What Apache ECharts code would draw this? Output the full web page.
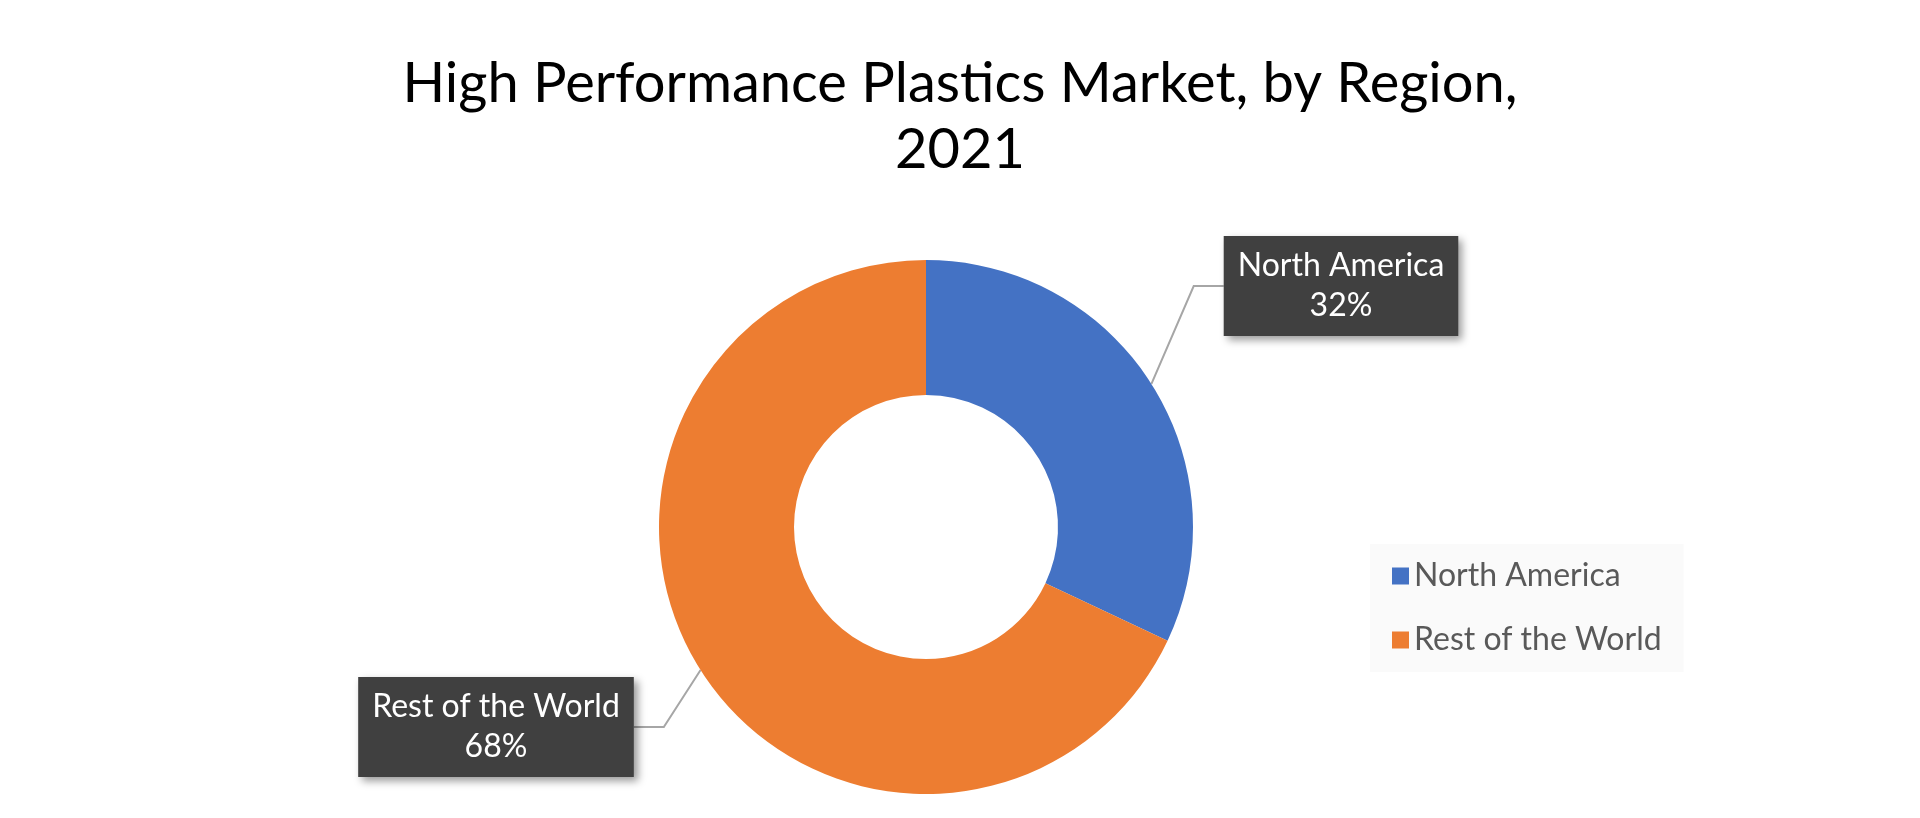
<!DOCTYPE html>
<html lang="en">
<head>
    <meta charset="UTF-8">
    <title>High Performance Plastics Market</title>
    <script src="https://cdn.jsdelivr.net/npm/echarts@6/dist/echarts.min.js"></script>
    <style>html,body{margin:0;background:#fff;}</style>
</head>
<body>
    <div id="main" style="width:1920px;height:818px;"></div>
    <script>
        var regions = ['North America', 'Rest of the World'];
        var shares = [32, 68];
        var colors = ['#4472C4', '#ED7D31'];
        // label box centres
        var labelPos = [[1341, 286], [496, 727]];

        var myChart = echarts.init(document.getElementById('main'));
        myChart.setOption({
            title: {
                text: 'High Performance Plastics Market, by Region,\n2021',
                left: 'center',
                top: 46,
                textStyle: { fontFamily: 'Lato', fontWeight: 'normal', fontSize: 56, color: '#000', lineHeight: 66 }
            },
            legend: {
                orient: 'vertical',
                left: 1370, top: 544,
                padding: [16, 22],
                backgroundColor: '#fafafa',
                itemWidth: 17, itemHeight: 17, itemGap: 32,
                icon: 'rect',
                textStyle: { fontFamily: 'Lato', fontSize: 32, color: '#595959' },
                data: regions
            },
            series: [{
                type: 'pie',
                center: [926, 527],
                radius: [132, 267],
                startAngle: 90,
                clockwise: true,
                color: colors,
                data: regions.map(function (r, i) { return { name: r, value: shares[i] }; }),
                label: {
                    formatter: '{b}\n{c}%',
                    color: '#fff',
                    fontFamily: 'Lato',
                    fontSize: 32,
                    lineHeight: 40,
                    align: 'center',
                    backgroundColor: '#404040',
                    padding: [10, 14],
                    shadowColor: 'rgba(0,0,0,0.4)',
                    shadowBlur: 8, shadowOffsetX: 4, shadowOffsetY: 4
                },
                labelLine: { lineStyle: { color: '#a6a6a6', width: 2 } },
                labelLayout: function (p) {
                    var pos = labelPos[p.dataIndex];
                    return { x: pos[0], y: pos[1], align: 'center', verticalAlign: 'middle' };
                }
            }]
        });
    </script>
</body>
</html>
